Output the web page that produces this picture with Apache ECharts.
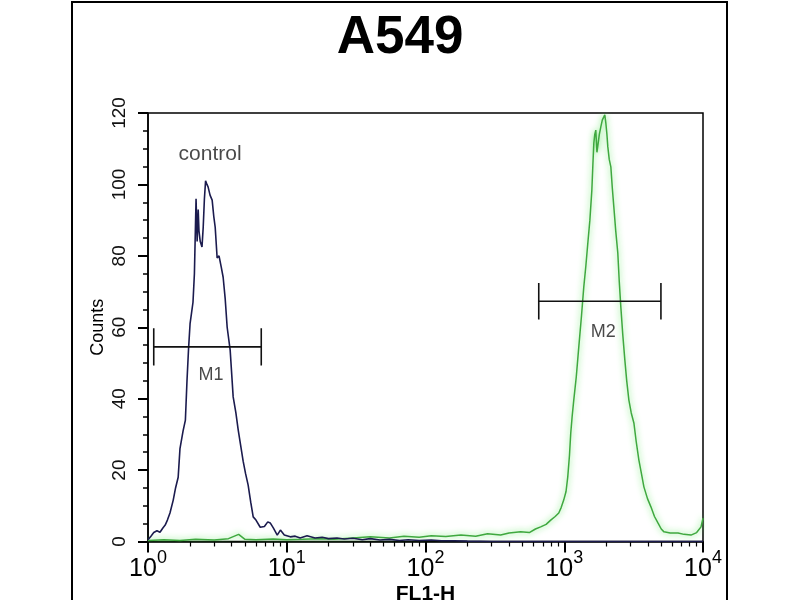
<!DOCTYPE html>
<html>
<head>
<meta charset="utf-8">
<script src="https://cdn.jsdelivr.net/npm/echarts@6/dist/echarts.min.js"></script>
<style>
html,body{margin:0;padding:0;background:#fff;}
#chart{width:800px;height:600px;}
</style>
</head>
<body>
<div id="chart"></div>
<script>
// ---- data ----
var titleText = 'A549';
var xAxisName = 'FL1-H';
var yAxisName = 'Counts';
var xMajorTicks = [1, 10, 100, 1000, 10000];
var xMinorTicks = [2,3,4,5,6,7,8,9,20,30,40,50,60,70,80,90,200,300,400,500,600,700,800,900,2000,3000,4000,5000,6000,7000,8000,9000];

var controlX = [1.00,1.05,1.10,1.16,1.22,1.28,1.33,1.38,1.44,1.52,1.58,1.65,1.70,1.79,1.86,1.91,1.96,2.01,2.06,2.11,2.16,2.22,2.26,2.30,2.33,2.38,2.45,2.50,2.55,2.60,2.66,2.71,2.80,2.90,2.98,3.05,3.15,3.25,3.37,3.48,3.60,3.72,3.91,4.11,4.30,4.47,4.65,4.85,5.05,5.27,5.50,5.73,6.00,6.44,6.90,7.30,7.60,8.00,8.54,9.00,9.60,10.6,11.5,12.5,14,16,18,20,23,26,30,35,40,47,55,65,75,90,110,130,160,200,300,500,1000,10000];
var controlY = [0.5,1.5,2.5,3.0,2.6,3.8,4.6,6.0,8.0,11.6,15,18,26,31,34,45,54,61,64,67,75,96,84,93,87,84,82.5,88,96,101,100,99.3,97,95.6,91,88,79.4,80,76.9,74,68,60,53.6,40.5,36,31.2,27,22.5,19,15.8,11,6.9,6,4.0,4.2,5.5,5.2,3.8,1.8,3.2,1.8,1.3,1.5,1.0,1.6,1.0,1.2,0.8,1.0,0.7,0.9,0.5,0.8,0.4,0.6,0.3,0.5,0.3,0.4,0.2,0.2,0.1,0,0,0,0];

var sampleX = [1.0,1.3,1.7,2.2,3,3.8,4.5,5,6,8,10,13,17,22,30,40,55,70,90,110,140,180,230,280,348,400,485,560,620,676,740,799,860,913,950,991,1030,1060,1090,1114,1140,1171,1220,1273,1330,1383,1430,1479,1530,1581,1610,1634,1660,1688,1720,1745,1790,1835,1880,1928,1960,1994,2030,2061,2110,2167,2220,2277,2350,2432,2490,2557,2640,2734,2820,2923,3040,3176,3300,3451,3600,3750,3980,4214,4470,4734,5000,5234,5800,6604,7300,8189,9000,9676,10000];
var sampleY = [0.3,0.5,0.3,0.6,0.4,0.8,2.0,0.6,0.5,0.7,0.5,0.6,0.8,0.6,1.0,1.3,1.0,1.5,1.2,1.6,1.4,1.8,1.5,2.2,1.8,2.4,2.7,2.5,3.5,4.1,4.8,6.0,7.0,8.0,9.5,11.6,14,18.1,24,30.4,35,39.6,46,54.5,63,71.3,77,83.6,90,98.4,106,111.6,114,115.2,109,109,114,116.1,118,118.9,119.5,117.2,114,110.5,107,104.9,99,93.7,87,80.8,73,65.7,58,50.8,45,39.6,36,33.2,28,22.8,19,15.3,12,9.7,7,5.2,3.5,2.7,2.4,2.4,2.0,1.8,2.5,4.1,6.5];

// marker gates: [start, end], level, half bar height
var gateNames = ['M1', 'M2'];
var gateStart = [1.10, 655];
var gateEnd = [6.55, 4975];
var gateLevel = [54.5, 67.3];
var gateHalf = [5.2, 5.1];

// text annotations
var noteText = ['control', 'M1', 'M2'];
var noteX = [2.80, 2.85, 1914];
var noteY = [108.5, 46.5, 58.8];
var noteSize = [21, 18, 18];

// ---- build ----
function zip(a, b) { return a.map(function (v, i) { return [v, b[i]]; }); }

var FONT = 'Liberation Sans, Arial, sans-serif';
var NARROW = 'Liberation Sans Narrow, Liberation Sans, Arial, sans-serif';
var series = [];

series.push({
  type: 'line', name: 'sample', xAxisIndex: 0, yAxisIndex: 0,
  data: zip(sampleX, sampleY), symbol: 'none', silent: true, clip: true,
  lineStyle: { color: '#3fa83f', width: 1.5, shadowColor: 'rgba(90,230,90,0.95)', shadowBlur: 6 },
  z: 2
});
series.push({
  type: 'line', name: 'control', xAxisIndex: 0, yAxisIndex: 0,
  data: zip(controlX, controlY), symbol: 'none', silent: true, clip: true,
  lineStyle: { color: '#1b1b4e', width: 1.6 },
  z: 3
});

gateNames.forEach(function (n, i) {
  var x0 = gateStart[i], x1 = gateEnd[i], y = gateLevel[i], h = gateHalf[i];
  series.push({
    type: 'line', name: n, xAxisIndex: 0, yAxisIndex: 0, symbol: 'none', silent: true,
    data: [[x0, y - h], [x0, y + h], [x0, y], [x1, y], [x1, y + h], [x1, y - h]],
    lineStyle: { color: '#111', width: 1.6 }, z: 4
  });
});

series.push({
  type: 'scatter', name: 'notes', xAxisIndex: 0, yAxisIndex: 0, symbolSize: 0, silent: true,
  data: noteText.map(function (t, i) {
    return { value: [noteX[i], noteY[i]], name: t,
      label: { show: true, position: 'inside', formatter: t, fontSize: noteSize[i], color: '#1a1a1a', fontFamily: FONT } };
  }),
  z: 5
});

var chart = echarts.init(document.getElementById('chart'), null, { renderer: 'canvas' });
chart.setOption({
  animation: false,
  backgroundColor: '#fff',
  title: {
    text: titleText, left: 'center', top: 7,
    textStyle: { fontSize: 53, fontWeight: 'bold', color: '#000', fontFamily: FONT }
  },
  graphic: [{
    type: 'rect', shape: { x: 72, y: 2, width: 655, height: 640 },
    style: { fill: 'none', stroke: '#000', lineWidth: 2 }, silent: true, z: 100
  }],
  grid: {
    left: 148, right: 97, top: 113, bottom: 58.5,
    outerBoundsMode: 'none', containLabel: false,
    show: true, borderColor: '#000', borderWidth: 1.5, backgroundColor: '#fff'
  },
  xAxis: [{
    type: 'log', logBase: 10, min: 1, max: 10000, position: 'bottom',
    name: xAxisName, nameLocation: 'middle', nameGap: 42, nameMoveOverlap: false,
    nameTextStyle: { fontSize: 21, color: '#000', fontFamily: NARROW, fontWeight: 'bold' },
    axisLine: { show: true, lineStyle: { color: '#000', width: 1.5 } },
    axisTick: { show: true, length: 11, customValues: xMajorTicks, lineStyle: { color: '#000', width: 2 } },
    splitLine: { show: false },
    minorTick: { show: false },
    axisLabel: {
      customValues: xMajorTicks, margin: 8, color: '#000',
      formatter: function (v) { return '{b|10}{s|' + Math.round(Math.log10(v)) + '}'; },
      rich: {
        b: { fontSize: 25, lineHeight: 39, fontFamily: NARROW, color: '#000' },
        s: { fontSize: 18, lineHeight: 18, verticalAlign: 'top', fontFamily: NARROW, color: '#000' }
      }
    }
  }, {
    type: 'log', logBase: 10, min: 1, max: 10000, position: 'bottom',
    axisLine: { show: false },
    axisTick: { show: true, length: 5, customValues: xMinorTicks, lineStyle: { color: '#000', width: 1.2 } },
    axisLabel: { show: false },
    splitLine: { show: false }
  }],
  yAxis: [{
    type: 'value', min: 0, max: 120, interval: 20,
    name: yAxisName, nameLocation: 'middle', nameGap: 41, nameRotate: 90, nameMoveOverlap: false,
    nameTextStyle: { fontSize: 18, color: '#000', fontFamily: NARROW },
    axisLine: { show: true, lineStyle: { color: '#000', width: 1.5 } },
    axisTick: { show: true, length: 10, lineStyle: { color: '#000', width: 2 } },
    minorTick: { show: true, splitNumber: 4, length: 5, lineStyle: { color: '#000', width: 1.5 } },
    splitLine: { show: false },
    axisLabel: { rotate: 90, margin: 19, fontSize: 19, color: '#111', fontFamily: FONT }
  }],
  series: series
});
</script>
</body>
</html>
